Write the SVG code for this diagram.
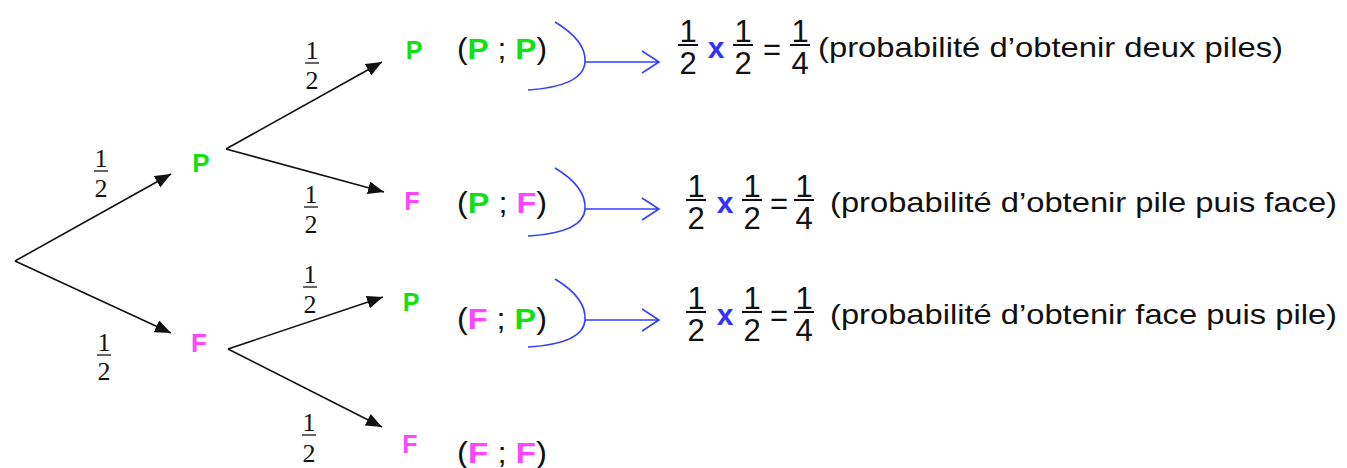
<svg xmlns="http://www.w3.org/2000/svg" width="1347" height="468" viewBox="0 0 1347 468">
<style>
.ln{stroke:#111;stroke-width:1.6;fill:none}
.br{stroke:#3340ff;stroke-width:1.6;fill:none}
.fr{font-family:"Liberation Serif",serif;font-size:26px;fill:#111;text-anchor:middle}
.bar{stroke:#333;stroke-width:1.5}
.fbar{stroke:#111;stroke-width:2}
.nd{font-family:"Liberation Sans",Arial,sans-serif;font-weight:bold;text-anchor:middle}
.g{fill:#11e011}
.m{fill:#ff44ff}
.pair{font-family:"Liberation Sans",Arial,sans-serif;font-size:30px;fill:#111}
.num{font-family:"Liberation Sans",Arial,sans-serif;font-size:31px;fill:#111;text-anchor:middle}
.x{font-family:"Liberation Sans",Arial,sans-serif;font-size:30px;font-weight:bold;fill:#3030ff;text-anchor:middle}
.txt{font-family:"Liberation Sans",Arial,sans-serif;font-size:28px;fill:#111}
</style>
<defs>
<marker id="ah" markerUnits="userSpaceOnUse" markerWidth="18" markerHeight="14" refX="16" refY="6.5" orient="auto">
<path d="M0,0 L16,6.5 L0,13 z" fill="#111"/>
</marker>
</defs>

<g id="connectors">
<line class="ln" x1="15" y1="261" x2="171" y2="174" marker-end="url(#ah)"/>
<line class="ln" x1="15" y1="261" x2="171" y2="333" marker-end="url(#ah)"/>
<line class="ln" x1="226" y1="149" x2="382" y2="62" marker-end="url(#ah)"/>
<line class="ln" x1="226" y1="149" x2="384" y2="192" marker-end="url(#ah)"/>
<line class="ln" x1="228" y1="349" x2="383" y2="297" marker-end="url(#ah)"/>
<line class="ln" x1="228" y1="349" x2="382" y2="427" marker-end="url(#ah)"/>
</g>

<g id="tree-fractions">
<text class="fr" x="101" y="167">1</text><line class="bar" x1="94" y1="171" x2="108" y2="171"/><text class="fr" x="101" y="197">2</text>
<text class="fr" x="104" y="351">1</text><line class="bar" x1="97" y1="355" x2="111" y2="355"/><text class="fr" x="104" y="380">2</text>
<text class="fr" x="312" y="59">1</text><line class="bar" x1="305" y1="63" x2="319" y2="63"/><text class="fr" x="312" y="89">2</text>
<text class="fr" x="311" y="203">1</text><line class="bar" x1="304" y1="207" x2="318" y2="207"/><text class="fr" x="311" y="233">2</text>
<text class="fr" x="310" y="283">1</text><line class="bar" x1="303" y1="287" x2="317" y2="287"/><text class="fr" x="310" y="313">2</text>
<text class="fr" x="309" y="431">1</text><line class="bar" x1="302" y1="435" x2="316" y2="435"/><text class="fr" x="309" y="462">2</text>
</g>

<g id="node-P1"><text class="nd g" x="201" y="172" font-size="26">P</text></g>
<g id="node-F1"><text class="nd m" x="199" y="352" font-size="26">F</text></g>
<g id="node-PP"><text class="nd g" x="414" y="59" font-size="25">P</text></g>
<g id="node-PF"><text class="nd m" x="412" y="210" font-size="25">F</text></g>
<g id="node-FP"><text class="nd g" x="411" y="311" font-size="25">P</text></g>
<g id="node-FF"><text class="nd m" x="410" y="453" font-size="25">F</text></g>

<g id="pair-PP"><text class="pair" x="457" y="59" textLength="90" lengthAdjust="spacingAndGlyphs">(<tspan class="g" font-weight="bold">P</tspan> ; <tspan class="g" font-weight="bold">P</tspan>)</text></g>
<g id="pair-PF"><text class="pair" x="457" y="213" textLength="90" lengthAdjust="spacingAndGlyphs">(<tspan class="g" font-weight="bold">P</tspan> ; <tspan class="m" font-weight="bold">F</tspan>)</text></g>
<g id="pair-FP"><text class="pair" x="457" y="329" textLength="90" lengthAdjust="spacingAndGlyphs">(<tspan class="m" font-weight="bold">F</tspan> ; <tspan class="g" font-weight="bold">P</tspan>)</text></g>
<g id="pair-FF"><text class="pair" x="457" y="463" textLength="90" lengthAdjust="spacingAndGlyphs">(<tspan class="m" font-weight="bold">F</tspan> ; <tspan class="m" font-weight="bold">F</tspan>)</text></g>

<g id="braces">
<path class="br" d="M555,22 C575,34 586,48 585,62 C584,79 562,88 528,90"/>
<path class="br" d="M585,62 L658,62 M642,51 L659,62 L642,73"/>
<path class="br" d="M555,168 C575,180 586,194 585,209 C584,226 562,234 528,236"/>
<path class="br" d="M585,209 L658,209 M642,198 L659,209 L642,220"/>
<path class="br" d="M555,279 C575,291 586,305 585,320 C584,337 562,345 528,347"/>
<path class="br" d="M585,320 L658,320 M642,309 L659,320 L642,331"/>
</g>

<g id="result-1">
<text class="num" x="688" y="42">1</text><line class="fbar" x1="678" y1="45" x2="698" y2="45"/><text class="num" x="688" y="74">2</text>
<text class="x" x="716" y="58">x</text>
<text class="num" x="743" y="42">1</text><line class="fbar" x1="733" y1="45" x2="753" y2="45"/><text class="num" x="743" y="74">2</text>
<text class="num" x="772" y="60">=</text>
<text class="num" x="800" y="42">1</text><line class="fbar" x1="790" y1="45" x2="810" y2="45"/><text class="num" x="800" y="74">4</text>
<text class="txt" x="818" y="57" textLength="465" lengthAdjust="spacingAndGlyphs">(probabilité d’obtenir deux piles)</text>
</g>
<g id="result-2">
<text class="num" x="696" y="197">1</text><line class="fbar" x1="686" y1="200" x2="706" y2="200"/><text class="num" x="696" y="229">2</text>
<text class="x" x="725" y="213">x</text>
<text class="num" x="752" y="197">1</text><line class="fbar" x1="742" y1="200" x2="762" y2="200"/><text class="num" x="752" y="229">2</text>
<text class="num" x="779" y="214">=</text>
<text class="num" x="804" y="197">1</text><line class="fbar" x1="794" y1="200" x2="814" y2="200"/><text class="num" x="804" y="229">4</text>
<text class="txt" x="830" y="212" textLength="507" lengthAdjust="spacingAndGlyphs">(probabilité d’obtenir pile puis face)</text>
</g>
<g id="result-3">
<text class="num" x="696" y="309">1</text><line class="fbar" x1="686" y1="312" x2="706" y2="312"/><text class="num" x="696" y="341">2</text>
<text class="x" x="725" y="325">x</text>
<text class="num" x="752" y="309">1</text><line class="fbar" x1="742" y1="312" x2="762" y2="312"/><text class="num" x="752" y="341">2</text>
<text class="num" x="779" y="326">=</text>
<text class="num" x="804" y="309">1</text><line class="fbar" x1="794" y1="312" x2="814" y2="312"/><text class="num" x="804" y="341">4</text>
<text class="txt" x="830" y="324" textLength="507" lengthAdjust="spacingAndGlyphs">(probabilité d’obtenir face puis pile)</text>
</g>
</svg>
